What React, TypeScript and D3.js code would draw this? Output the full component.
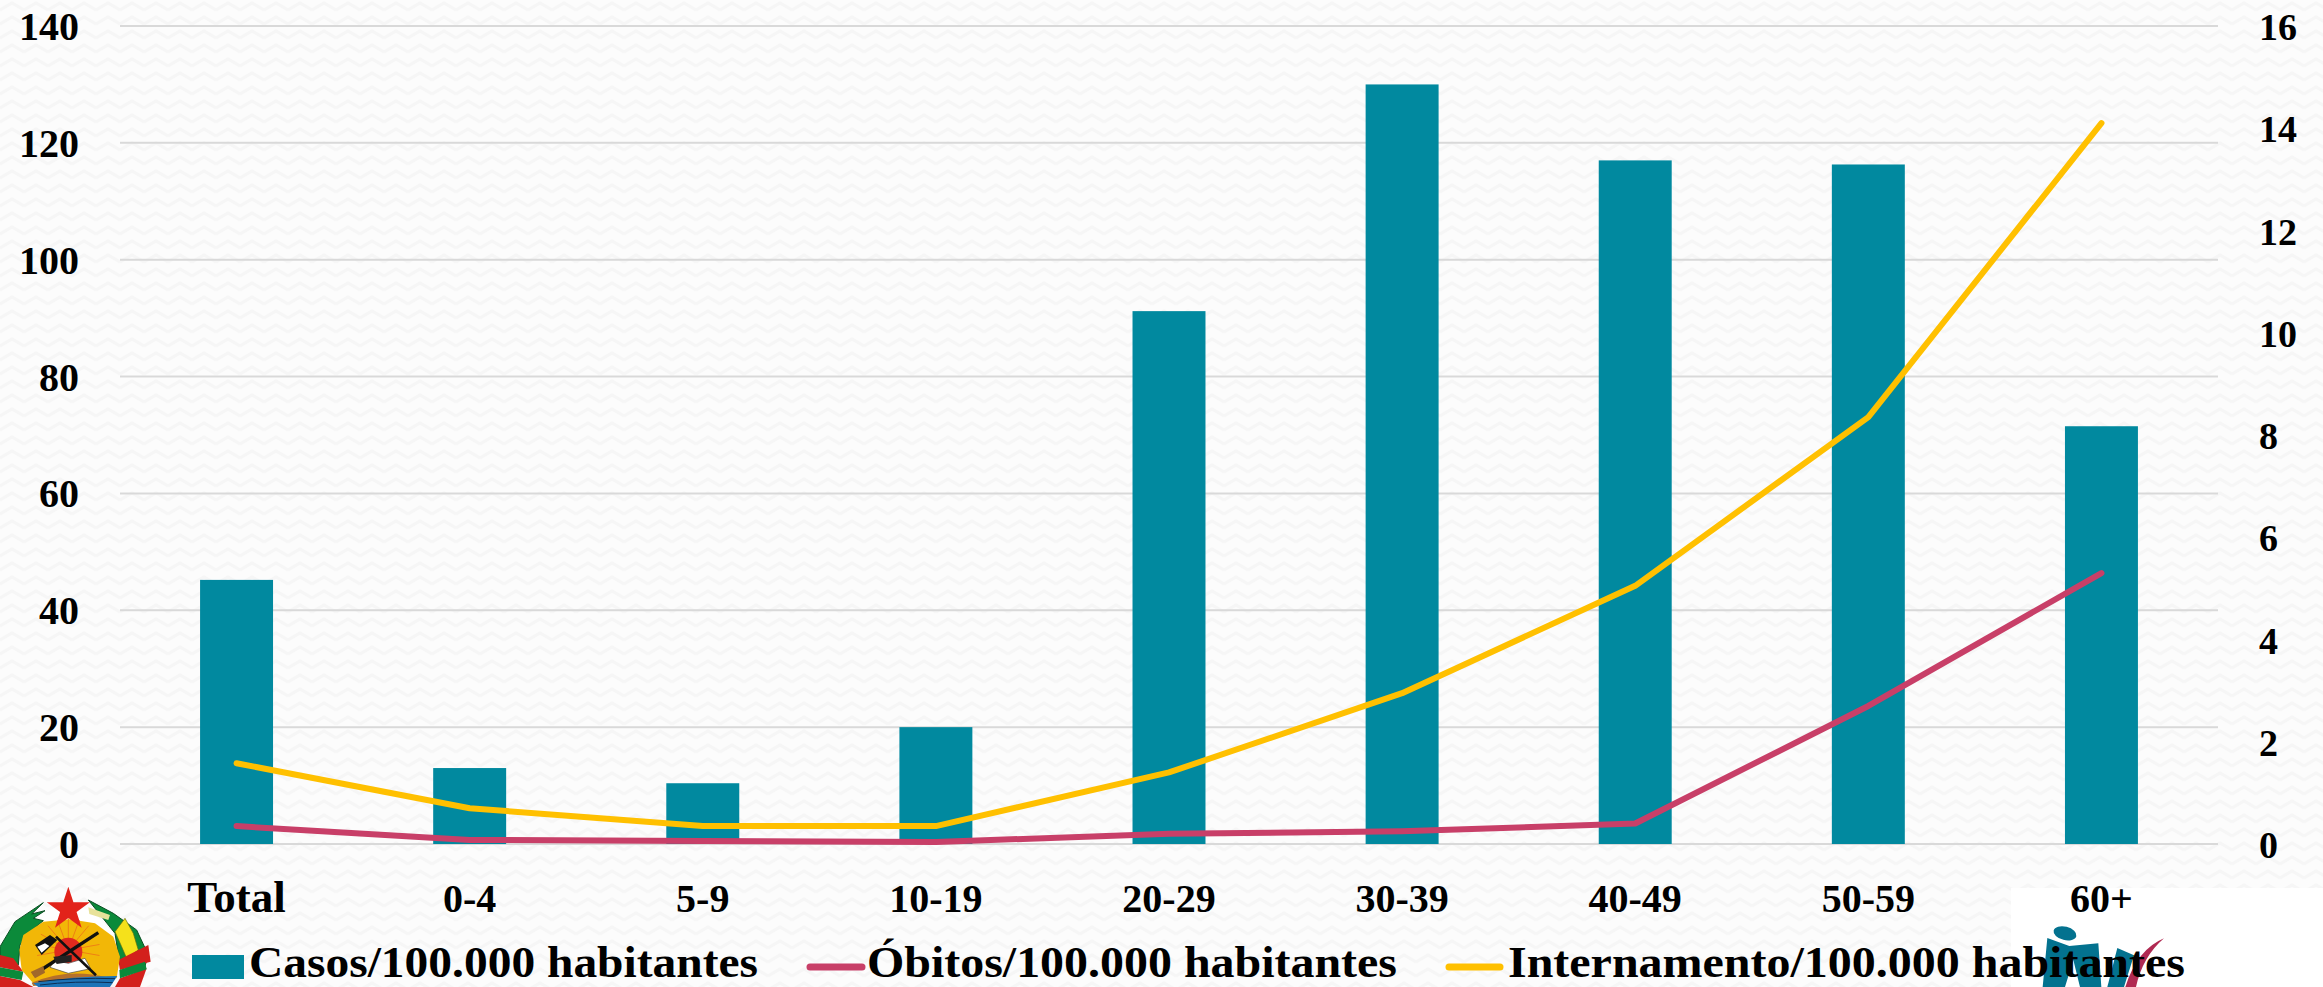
import * as d3 from "d3"

const categories = ["Total", "0-4", "5-9", "10-19", "20-29", "30-39", "40-49", "50-59", "60+"]
const casos = [45.2, 13, 10.4, 20, 91.2, 130, 117, 116.3, 71.5]
const obitos = [0.35, 0.08, 0.06, 0.04, 0.2, 0.25, 0.4, 2.7, 5.3]
const internamento = [1.58, 0.7, 0.35, 0.35, 1.4, 2.95, 5.05, 8.35, 14.1]
const leftTicks = [0, 20, 40, 60, 80, 100, 120, 140]
const rightTicks = [0, 2, 4, 6, 8, 10, 12, 14, 16]

const WIDTH = 2323
const HEIGHT = 987
const FONT = "'Liberation Serif', serif"
const TEAL = "#01899f"
const RED = "#c83f68"
const YELLOW = "#ffc000"

const x = d3.scaleBand<string>().domain(categories).range([120, 2218]).paddingInner(0.687).paddingOuter(0.3435)
const yLeft = d3.scaleLinear().domain([0, 140]).range([844, 26])
const yRight = d3.scaleLinear().domain([0, 16]).range([844, 26])

const lineFor = d3
  .line<number>()
  .x((_, i) => x(categories[i])! + x.bandwidth() / 2)
  .y((d) => yRight(d))

// coat of arms, rough copy, drawn in 3x crop units
function Emblem() {
  const star = d3.symbol().type(d3.symbolStar).size(5200)()!
  const rays = [-80, -60, -40, -20, 0, 20, 40, 60, 80, 100, -100]
  return (
    <g transform="translate(0,890) scale(0.3333)">
      <path d="M55 150 L125 70 L205 35 L285 70 L345 135 L205 85 Z" fill="#ffffff" />
      <path d="M0 205 L0 170 L45 95 L130 38 L95 72 L135 62 L100 85 L130 92 L85 130 L60 165 L55 225 Z" fill="#0b8a3a" stroke="#0a4d22" strokeWidth={3} />
      <path d="M265 30 L340 70 L410 120 L445 195 L430 245 L360 225 L345 130 Z" fill="#0b8a3a" stroke="#0a4d22" strokeWidth={3} />
      <path d="M345 125 L375 85 L400 130 L415 180 L380 205 L365 170 Z" fill="#f5e11b" stroke="#5d6a10" strokeWidth={2} />
      <path d="M265 52 L330 75 L325 90 L268 72 Z" fill="#e8e29a" />
      <path d="M0 195 L40 205 L70 245 L0 232 Z" fill="#d3201c" />
      <path d="M0 258 L60 270 L100 291 L0 291 Z" fill="#d3201c" />
      <path d="M0 232 L70 245 L65 270 L0 258 Z" fill="#0b8a3a" />
      <path d="M355 210 L445 165 L452 215 L360 240 Z" fill="#d3201c" />
      <path d="M360 265 L440 235 L420 291 L345 291 Z" fill="#d3201c" />
      <path d="M358 240 L435 215 L440 238 L360 265 Z" fill="#0b8a3a" />
      <path d="M70 135 L130 95 L210 88 L285 100 L340 140 L360 200 L350 265 L100 280 L65 240 L58 180 Z" fill="#f2b707" />
      {rays.map((a) => (
        <line key={a} x1={205} y1={180} x2={205 + 95 * Math.sin((a * Math.PI) / 180)} y2={180 - 95 * Math.cos((a * Math.PI) / 180)} stroke="#ee7f14" strokeWidth={3} />
      ))}
      <circle cx={205} cy={185} r={42} fill="#df2a1e" />
      <path d="M150 232 L165 212 L205 220 L255 205 L272 236 L205 250 Z" fill="#ffffff" stroke="#444" strokeWidth={2} />
      <path d="M95 278 Q205 232 322 262 L345 262 L100 288 Z" fill="#b5702a" />
      <path d="M100 280 Q220 258 352 258 L330 291 L115 291 Z" fill="#1c74b8" />
      <path d="M115 275 Q225 262 345 266 M120 285 Q225 272 338 278" stroke="#0c2d52" strokeWidth={3} fill="none" />
      <path d="M168 140 L288 256" stroke="#111" strokeWidth={8} />
      <path d="M105 165 L150 135 L172 150 L125 195 Z" fill="#111" />
      <path d="M112 170 L135 160 L148 168 L125 188 Z" fill="#fff" />
      <path d="M100 255 L295 128" stroke="#111" strokeWidth={10} />
      <path d="M92 246 L130 228 L135 248 L105 265 Z" fill="#a0682a" />
      <path d="M160 200 L215 195 L215 215 L170 222 Z" fill="#222" />
      <path d={star} transform="translate(205,58)" fill="#e2231a" />
    </g>
  )
}

// health institute logo behind the legend, rough copy
function Logo() {
  return (
    <g transform="translate(2030,910) scale(0.3333)">
      <ellipse cx={105} cy={70} rx={35} ry={20} transform="rotate(14 105 70)" fill="#03728f" />
      <path d="M52 84 L118 108 L205 100 L214 231 L150 231 L130 150 L105 231 L38 231 Z" fill="#03728f" />
      <path d="M262 114 L312 136 L282 231 L232 231 Z" fill="#03728f" />
      <path d="M402 85 Q322 118 286 231 L318 231 Q338 140 402 85 Z" fill="#b02a52" />
    </g>
  )
}

export default function App() {
  const band = x.bandwidth()
  return (
    <svg
      width={WIDTH}
      height={HEIGHT}
      viewBox={`0 0 ${WIDTH} ${HEIGHT}`}
      style={{ position: "absolute", left: 0, top: 0, display: "block" }}
      fontFamily={FONT}
      fontWeight="bold"
    >
      <defs>
        <pattern id="zigzag" width={24} height={14} patternUnits="userSpaceOnUse">
          <rect width={24} height={14} fill="#fcfcfc" />
          <path d="M0 10 L12 3 L24 10" fill="none" stroke="#f6f6f6" strokeWidth={3} />
        </pattern>
      </defs>
      <rect width={WIDTH} height={HEIGHT} fill="url(#zigzag)" />
      <rect x={2011} y={888} width={WIDTH - 2011} height={HEIGHT - 888} fill="#ffffff" />

      {leftTicks.map((t) => (
        <line key={t} x1={120} x2={2218} y1={yLeft(t)} y2={yLeft(t)} stroke="#d9d9d9" strokeWidth={2} />
      ))}

      {categories.map((c, i) => (
        <rect key={c} x={x(c)} y={yLeft(casos[i])} width={band} height={yLeft(0) - yLeft(casos[i])} fill={TEAL} />
      ))}

      <path d={lineFor(obitos)!} fill="none" stroke={RED} strokeWidth={6} strokeLinejoin="round" strokeLinecap="round" />
      <path d={lineFor(internamento)!} fill="none" stroke={YELLOW} strokeWidth={6} strokeLinejoin="round" strokeLinecap="round" />

      {leftTicks.map((t) => (
        <text key={t} x={79} y={yLeft(t) + 14} textAnchor="end" fontSize={40} fill="#000">
          {t}
        </text>
      ))}
      {rightTicks.map((t) => (
        <text key={t} x={2259} y={yRight(t) + 14} fontSize={38} fill="#000">
          {t}
        </text>
      ))}

      {categories.map((c) => (
        <text key={c} x={x(c)! + band / 2} y={912} textAnchor="middle" fontSize={c === "Total" ? 45 : 40} fill="#000">
          {c}
        </text>
      ))}

      <Emblem />
      <Logo />

      <rect x={192} y={955} width={52} height={24} fill={TEAL} />
      <text x={249} y={977} fontSize={45} textLength={509} lengthAdjust="spacingAndGlyphs" fill="#000">
        Casos/100.000 habitantes
      </text>
      <line x1={810} x2={862} y1={967} y2={967} stroke={RED} strokeWidth={7} strokeLinecap="round" />
      <text x={867} y={977} fontSize={45} textLength={530} lengthAdjust="spacingAndGlyphs" fill="#000">
        Óbitos/100.000 habitantes
      </text>
      <line x1={1449} x2={1500} y1={967} y2={967} stroke={YELLOW} strokeWidth={7} strokeLinecap="round" />
      <text x={1508} y={977} fontSize={45} textLength={677} lengthAdjust="spacingAndGlyphs" fill="#000">
        Internamento/100.000 habitantes
      </text>
    </svg>
  )
}
